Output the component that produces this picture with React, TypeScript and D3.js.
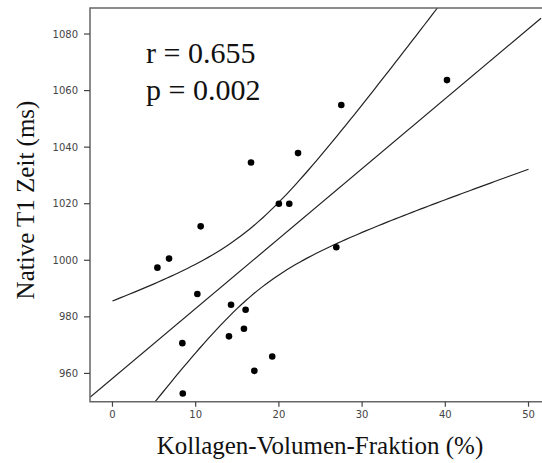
import React, { useEffect, useRef } from 'react';
import * as d3 from 'd3';

// Kollagen-Volumen-Fraktion (%) vs. native T1 (ms)
const kvf = [20.0, 21.25, 10.6, 5.4, 6.8, 26.9, 10.2, 14.25, 16.0, 15.8, 14.0, 8.4, 19.2, 17.05, 8.45, 16.65, 22.3, 27.5, 40.2];
const t1 = [1020, 1020, 1012, 997.4, 1000.6, 1004.6, 988.1, 984.3, 982.5, 975.8, 973.1, 970.7, 966.0, 960.9, 952.9, 1034.6, 1037.9, 1054.9, 1063.7];
const xTicks = [0, 10, 20, 30, 40, 50];
const yTicks = [960, 980, 1000, 1020, 1040, 1060, 1080];
const statLines = ['r = 0.655', 'p = 0.002'];

const T_975_DF17 = 2.1098;

export default function App() {
  const svgRef = useRef<SVGSVGElement | null>(null);

  useEffect(() => {
    if (!svgRef.current) return;
    const width = 542;
    const height = 463;
    const left = 90, right = 542, top = 8, bottom = 401.7;

    const svg = d3.select(svgRef.current);
    svg.selectAll('*').remove();
    svg.attr('width', width).attr('height', height);

    const x = d3.scaleLinear().domain([-2.7, 51.5]).range([left, 541]);
    const y = d3.scaleLinear().domain([950, 1089.2]).range([bottom, top]);

    svg.append('defs').append('clipPath').attr('id', 'plotclip')
      .append('rect').attr('x', left).attr('y', top).attr('width', right - left).attr('height', bottom - top);

    // linear fit + 95% CI of the mean
    const n = kvf.length;
    const mx = d3.mean(kvf) as number;
    const my = d3.mean(t1) as number;
    const sxx = d3.sum(kvf, v => (v - mx) ** 2);
    const sxy = d3.sum(kvf, (v, i) => (v - mx) * (t1[i] - my));
    const b = sxy / sxx;
    const a = my - b * mx;
    const sse = d3.sum(kvf, (v, i) => (t1[i] - (a + b * v)) ** 2);
    const s = Math.sqrt(sse / (n - 2));
    const half = (v: number) => T_975_DF17 * s * Math.sqrt(1 / n + (v - mx) ** 2 / sxx);

    const g = svg.append('g').attr('clip-path', 'url(#plotclip)');
    const line = d3.line<number>();
    const xs = d3.range(0, 50.01, 0.5);

    g.append('path')
      .attr('d', line([[x(-2.7), y(a + b * -2.7)], [x(51.5), y(a + b * 51.5)]] as any))
      .attr('fill', 'none').attr('stroke', '#222').attr('stroke-width', 1.2);
    [1, -1].forEach(sign => {
      g.append('path')
        .attr('d', d3.line<number>().x(v => x(v)).y(v => y(a + b * v + sign * half(v)))(xs))
        .attr('fill', 'none').attr('stroke', '#222').attr('stroke-width', 1.2);
    });

    g.selectAll('circle').data(kvf).enter().append('circle')
      .attr('cx', d => x(d)).attr('cy', (d, i) => y(t1[i])).attr('r', 3.3).attr('fill', '#000');

    // frame
    svg.append('path')
      .attr('d', `M${right},${top}H${left}V${bottom}H${right}`)
      .attr('fill', 'none').attr('stroke', '#666').attr('stroke-width', 1.5);

    // x axis ticks
    const xa = svg.append('g');
    xTicks.forEach(t => {
      xa.append('line').attr('x1', x(t)).attr('x2', x(t)).attr('y1', bottom).attr('y2', bottom + 5)
        .attr('stroke', '#444').attr('stroke-width', 1.2);
      xa.append('text').attr('x', x(t)).attr('y', 417.5).attr('text-anchor', 'middle')
        .attr('font-family', 'DejaVu Sans').attr('font-size', 10).attr('fill', '#444').text(t);
    });
    const ya = svg.append('g');
    yTicks.forEach(t => {
      ya.append('line').attr('x1', left - 6).attr('x2', left).attr('y1', y(t)).attr('y2', y(t))
        .attr('stroke', '#444').attr('stroke-width', 1.2);
      ya.append('text').attr('x', 78).attr('y', y(t) + 3.6).attr('text-anchor', 'end')
        .attr('font-family', 'DejaVu Sans').attr('font-size', 10).attr('fill', '#444').text(t);
    });

    // stats text
    statLines.forEach((txt, i) => {
      svg.append('text').attr('x', 146).attr('y', 63 + i * 36.5)
        .attr('font-family', 'Liberation Serif').attr('font-size', 30).attr('fill', '#111').text(txt);
    });

    // axis titles
    svg.append('text').attr('x', 320).attr('y', 454).attr('text-anchor', 'middle')
      .attr('font-family', 'Liberation Serif').attr('font-size', 25).attr('fill', '#111')
      .text('Kollagen-Volumen-Fraktion (%)');
    svg.append('text').attr('transform', 'translate(34,200) rotate(-90)').attr('text-anchor', 'middle')
      .attr('font-family', 'Liberation Serif').attr('font-size', 25).attr('fill', '#111')
      .text('Native T1 Zeit (ms)');
  }, []);

  return <svg ref={svgRef} style={{ position: 'absolute', left: 0, top: 0 }}></svg>;
}
